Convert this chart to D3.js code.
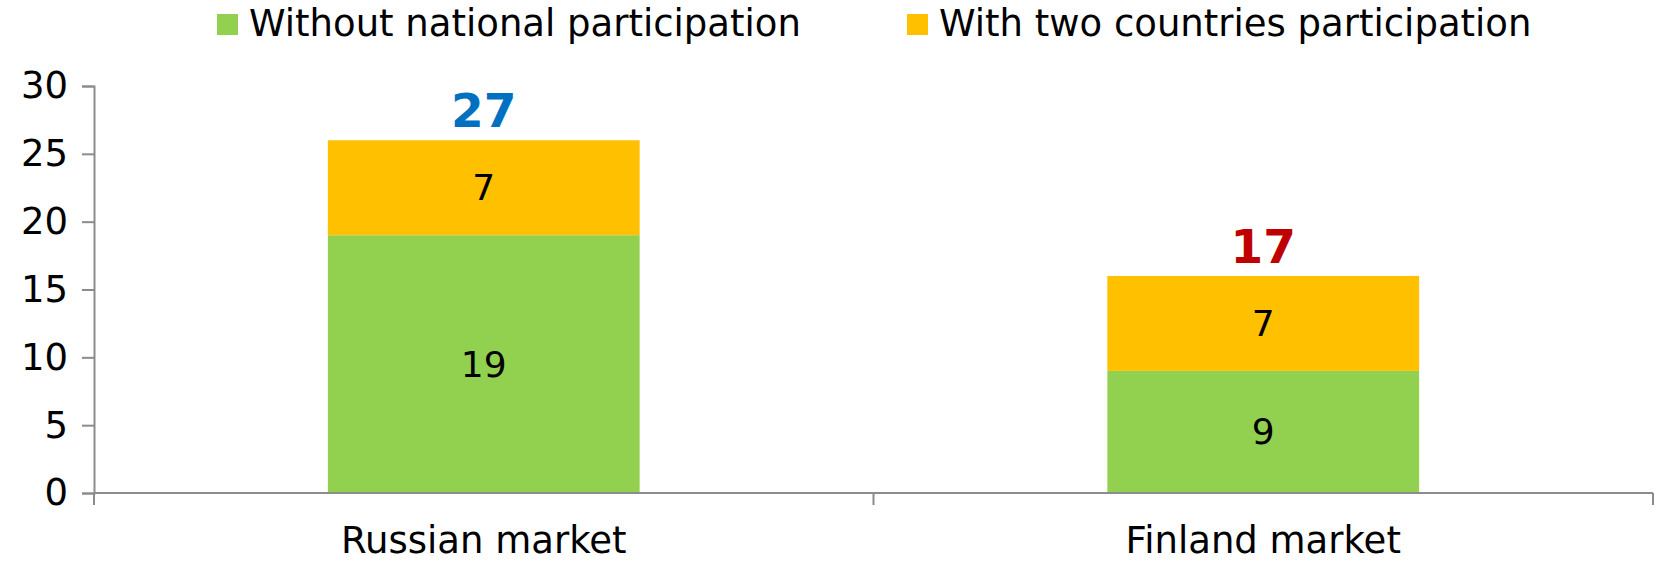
<!DOCTYPE html>
<html>
<head>
<meta charset="utf-8">
<script src="https://cdn.jsdelivr.net/npm/d3@7"></script>
<style>
  body { margin: 0; background: #fff; }
  svg text { font-family: "DejaVu Sans", Verdana, sans-serif; }
</style>
</head>
<body>
<script>
const categories = ["Russian market", "Finland market"];
const seriesNames = ["Without national participation", "With two countries participation"];
const withoutNational = [19, 9];
const withTwoCountries = [7, 7];
const totalLabels = [27, 17];
const totalColors = ["#0070C0", "#C00000"];
const yTicks = [0, 5, 10, 15, 20, 25, 30];
const colors = ["#92D050", "#FFC000"];

const width = 1658, height = 561;
const plotLeft = 94, plotRight = 1653, plotTop = 86, plotBottom = 493;

const svg = d3.select("body").append("svg")
    .attr("width", width)
    .attr("height", height);

const x = d3.scaleBand()
    .domain(categories)
    .range([plotLeft, plotRight])
    .paddingInner(0.6)
    .paddingOuter(0.3);

const y = d3.scaleLinear()
    .domain([0, 30])
    .range([plotBottom, plotTop]);

// stack the two series
const rows = categories.map((c, i) => ({ cat: c, a: withoutNational[i], b: withTwoCountries[i] }));
const stack = d3.stack().keys(["a", "b"])(rows);

stack.forEach((layer, li) => {
    svg.append("g").selectAll("rect")
        .data(layer)
        .enter().append("rect")
        .attr("x", d => x(d.data.cat))
        .attr("y", d => y(d[1]))
        .attr("width", x.bandwidth())
        .attr("height", d => y(d[0]) - y(d[1]))
        .attr("fill", colors[li]);

    svg.append("g").selectAll("text")
        .data(layer)
        .enter().append("text")
        .attr("x", d => x(d.data.cat) + x.bandwidth() / 2)
        .attr("y", d => (y(d[0]) + y(d[1])) / 2)
        .attr("text-anchor", "middle")
        .attr("dominant-baseline", "central")
        .attr("font-size", 36)
        .attr("fill", "#000")
        .text(d => d[1] - d[0]);
});

// totals above bars
svg.append("g").selectAll("text")
    .data(rows)
    .enter().append("text")
    .attr("x", d => x(d.cat) + x.bandwidth() / 2)
    .attr("y", d => y(d.a + d.b) - 13)
    .attr("text-anchor", "middle")
    .attr("font-size", 47)
    .attr("font-weight", "bold")
    .attr("fill", (d, i) => totalColors[i])
    .text((d, i) => totalLabels[i]);

// y axis
const yAxis = svg.append("g")
    .attr("transform", "translate(" + plotLeft + ",0)")
    .call(d3.axisLeft(y).tickValues(yTicks).tickSize(12).tickPadding(14));
yAxis.select(".domain").attr("stroke", "#8c8c8c").attr("stroke-width", 2);
yAxis.selectAll(".tick line").attr("stroke", "#8c8c8c").attr("stroke-width", 2);
yAxis.selectAll(".tick text")
    .attr("font-size", 37)
    .attr("fill", "#000")
    .attr("font-family", "DejaVu Sans, sans-serif");

// x axis: baseline with ticks between categories
const xg = svg.append("g");
xg.append("line")
    .attr("x1", plotLeft).attr("x2", plotRight)
    .attr("y1", y(0)).attr("y2", y(0))
    .attr("stroke", "#8c8c8c").attr("stroke-width", 2);
const step = x.step();
const edges = [plotLeft].concat(categories.map(c => x(c) + x.bandwidth() + step * x.paddingInner() / 2));
edges[edges.length - 1] = plotRight;
xg.selectAll(".xt")
    .data(edges)
    .enter().append("line")
    .attr("x1", d => d).attr("x2", d => d)
    .attr("y1", y(0)).attr("y2", y(0) + 12)
    .attr("stroke", "#8c8c8c").attr("stroke-width", 2);
xg.selectAll(".xl")
    .data(categories)
    .enter().append("text")
    .attr("x", d => x(d) + x.bandwidth() / 2)
    .attr("y", 553)
    .attr("text-anchor", "middle")
    .attr("font-size", 37)
    .attr("fill", "#000")
    .text(d => d);

// legend
const legendX = [217, 907];
const legend = svg.selectAll(".legend")
    .data(seriesNames)
    .enter().append("g")
    .attr("class", "legend")
    .attr("transform", (d, i) => "translate(" + legendX[i] + ",0)");
legend.append("rect")
    .attr("x", 0).attr("y", 14)
    .attr("width", 21).attr("height", 21)
    .attr("fill", (d, i) => colors[i]);
legend.append("text")
    .attr("x", 32)
    .attr("y", 36)
    .attr("font-size", 37)
    .attr("fill", "#000")
    .text(d => d);
</script>
</body>
</html>
